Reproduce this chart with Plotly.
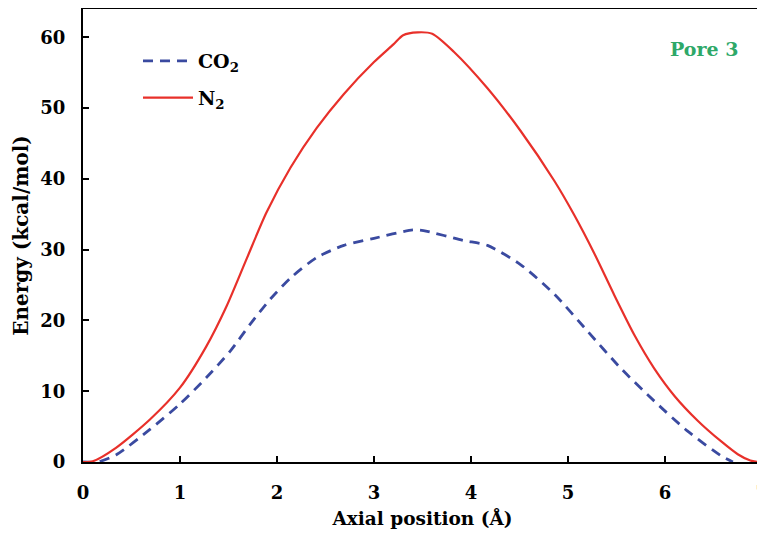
import plotly.graph_objects as go

# N2 energy profile
n2_x = [0, 0.1, 0.34, 0.69, 1.0, 1.27, 1.48, 1.69, 1.89, 2.14, 2.41, 2.69, 3.0, 3.2, 3.3,
        3.45, 3.6, 3.82, 4.17, 4.51, 4.86, 5.06, 5.27, 5.48, 5.69, 5.89, 6.1, 6.34, 6.58,
        6.75, 6.88, 6.95]
n2_y = [0, 0.1, 2.0, 6.0, 10.5, 16.3, 22.0, 28.8, 35.2, 41.6, 47.2, 52.0, 56.5, 59.0, 60.3,
        60.7, 60.5, 58.0, 52.8, 46.8, 39.7, 35.0, 29.5, 23.5, 17.8, 13.2, 9.3, 5.8, 2.9,
        1.1, 0.2, 0]

# CO2 energy profile
co2_x = [0, 0.15, 0.34, 0.69, 1.0, 1.27, 1.52, 1.72, 1.93, 2.14, 2.41, 2.69, 3.0, 3.4, 3.51,
         3.92, 4.17, 4.51, 4.86, 5.2, 5.54, 5.89, 6.23, 6.58, 6.7]
co2_y = [0, 0, 1.0, 4.6, 8.2, 11.9, 15.7, 19.4, 23.0, 26.0, 28.9, 30.6, 31.6, 32.8, 32.7,
         31.3, 30.6, 27.9, 23.7, 18.5, 13.3, 8.6, 4.4, 0.85, 0]

x_ticks = [0, 1, 2, 3, 4, 5, 6, 7]
y_ticks = [0, 10, 20, 30, 40, 50, 60]

FONT = "DejaVu Serif"

fig = go.Figure()
fig.add_trace(go.Scatter(
    x=co2_x, y=co2_y, mode="lines", name="CO<sub>2</sub>", legendgroup="a",
    line=dict(color="#3a4aa0", width=2.8, dash="10px,7px", shape="spline", smoothing=0.7),
))
fig.add_trace(go.Scatter(
    x=n2_x, y=n2_y, mode="lines", name="N<sub>2</sub>", legendgroup="b",
    line=dict(color="#e8302a", width=2.2, shape="spline", smoothing=0.7),
))

axis_common = dict(
    showline=True, linecolor="black", linewidth=2, mirror=True,
    ticks="inside", ticklen=6, tickwidth=1.5, tickcolor="black",
    showgrid=False, zeroline=False, automargin=False,
    tickfont=dict(family=FONT, size=18, color="black", weight="bold"),
)

fig.update_xaxes(
    range=[0, 7], tickvals=x_ticks, ticklabelstandoff=13,
    title=dict(text="Axial position (Å)", font=dict(family=FONT, size=18.5, color="black", weight="bold"), standoff=10),
    **axis_common,
)
fig.update_yaxes(
    range=[0, 64], tickvals=y_ticks, ticklabelstandoff=12,
    title=dict(text="Energy (kcal/mol)", font=dict(family=FONT, size=20, color="black", weight="bold"), standoff=6),
    **axis_common,
)

fig.add_annotation(
    x=0.9676, y=0.912, xref="paper", yref="paper", xanchor="right", yanchor="middle",
    text="Pore 3", showarrow=False,
    font=dict(family=FONT, size=19, color="#2ea868", weight="bold"),
)

fig.update_layout(
    width=765, height=533,
    margin=dict(l=75, r=11, t=1, b=79),
    paper_bgcolor="white", plot_bgcolor="white",
    showlegend=True,
    legend=dict(
        x=0.081, y=0.927, xanchor="left", yanchor="top",
        bgcolor="rgba(0,0,0,0)", itemwidth=50, tracegroupgap=9, traceorder="grouped",
        font=dict(family=FONT, size=19, color="black", weight="bold"),
    ),
)

fig.write_html("out.html")
